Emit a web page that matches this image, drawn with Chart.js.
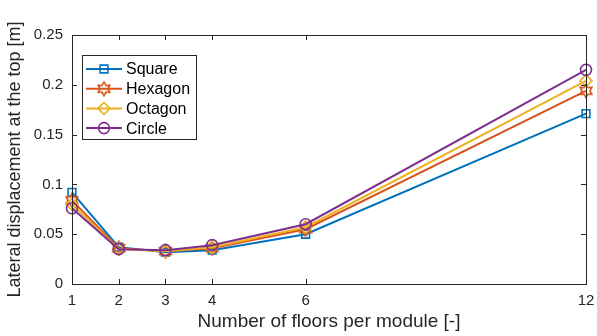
<!DOCTYPE html>
<html>
<head>
<meta charset="utf-8">
<script src="https://cdn.jsdelivr.net/npm/chart.js@4.4.1/dist/chart.umd.min.js"></script>
<style>
  html, body { margin: 0; padding: 0; background: #fff; }
</style>
</head>
<body>
<canvas id="myChart" width="597" height="336"></canvas>
<script>
const floors = [1, 2, 3, 4, 6, 12];
const xTickValues = [1, 2, 3, 4, 6, 12];
const yTickValues = [0, 0.05, 0.1, 0.15, 0.2, 0.25];

const seriesNames = ["Square", "Hexagon", "Octagon", "Circle"];
const square = [0.092, 0.037, 0.032, 0.034, 0.050, 0.171];
const hexagon = [0.084, 0.036, 0.033, 0.036, 0.055, 0.194];
const octagon = [0.080, 0.035, 0.033, 0.037, 0.057, 0.204];
const circle = [0.076, 0.035, 0.034, 0.039, 0.060, 0.215];

const colors = ["#0072BD", "#D95319", "#EDB120", "#7E2F8E"];
const axisColor = "#262626";
const font = "'Liberation Sans', Arial, Helvetica, sans-serif";

// six pointed star marker, drawn once into a small canvas
function hexagram(color) {
  const c = document.createElement("canvas");
  c.width = 16;
  c.height = 16;
  const g = c.getContext("2d");
  const R = 6.8, r = R / Math.sqrt(3);
  g.beginPath();
  for (let k = 0; k < 12; k++) {
    const a = -Math.PI / 2 + (k * Math.PI) / 6;
    const rad = k % 2 ? r : R;
    const px = 8 + rad * Math.cos(a), py = 8 + rad * Math.sin(a);
    if (k === 0) g.moveTo(px, py); else g.lineTo(px, py);
  }
  g.closePath();
  g.strokeStyle = color;
  g.lineWidth = 1.6;
  g.stroke();
  return c;
}

const markers = ["rect", hexagram(colors[1]), "rectRot", "circle"];
const markerSize = [5.5, 7, 6, 5.5];
const values = [square, hexagon, octagon, circle];

function makeDataset(i) {
  return {
    label: seriesNames[i],
    data: floors.map((x, j) => ({ x: x, y: values[i][j] })),
    borderColor: colors[i],
    backgroundColor: "rgba(0,0,0,0)",
    borderWidth: 2,
    pointStyle: markers[i],
    pointRadius: markerSize[i],
    pointBorderColor: colors[i],
    pointBackgroundColor: "rgba(0,0,0,0)",
    pointBorderWidth: 1.6,
    tension: 0,
    clip: false,
    order: 4 - i,
  };
}

// box round the plot, inward ticks and the legend, matlab style
const boxPlugin = {
  id: "boxPlugin",
  afterDraw(chart) {
    const ctx = chart.ctx;
    const a = chart.chartArea;
    const xs = chart.scales.x, ys = chart.scales.y;
    ctx.save();
    ctx.strokeStyle = axisColor;
    ctx.lineWidth = 1;
    ctx.strokeRect(a.left + 0.5, a.top + 0.5, a.right - a.left, a.bottom - a.top);
    ctx.beginPath();
    xTickValues.forEach((v) => {
      const px = Math.round(xs.getPixelForValue(v)) + 0.5;
      ctx.moveTo(px, a.bottom);
      ctx.lineTo(px, a.bottom - 5);
      ctx.moveTo(px, a.top);
      ctx.lineTo(px, a.top + 5);
    });
    yTickValues.forEach((v) => {
      const py = Math.round(ys.getPixelForValue(v)) + 0.5;
      ctx.moveTo(a.left, py);
      ctx.lineTo(a.left + 5, py);
      ctx.moveTo(a.right, py);
      ctx.lineTo(a.right - 5, py);
    });
    ctx.stroke();

    // legend
    const lx = a.left + 10, ly = a.top + 20, lw = 114, lh = 84;
    ctx.fillStyle = "#fff";
    ctx.fillRect(lx, ly, lw, lh);
    ctx.strokeStyle = axisColor;
    ctx.strokeRect(lx + 0.5, ly + 0.5, lw, lh);
    ctx.font = "16px " + font;
    ctx.textBaseline = "middle";
    seriesNames.forEach((name, i) => {
      const y = ly + 14 + i * 19.7;
      ctx.strokeStyle = colors[i];
      ctx.lineWidth = 2;
      ctx.beginPath();
      ctx.moveTo(lx + 4, y);
      ctx.lineTo(lx + 40, y);
      ctx.stroke();
      ctx.fillStyle = "rgba(0,0,0,0)";
      ctx.lineWidth = 1.6;
      Chart.helpers.drawPoint(ctx, {
        pointStyle: markers[i],
        radius: markerSize[i],
        borderWidth: 1.6,
        rotation: 0,
      }, lx + 22, y);
      ctx.fillStyle = "#000";
      ctx.fillText(name, lx + 44, y + 1);
    });
    ctx.restore();
  },
};

const config = {
  type: "line",
  data: {
    datasets: seriesNames.map((n, i) => makeDataset(i)),
  },
  options: {
    responsive: false,
    animation: false,
    devicePixelRatio: 1,
    layout: { padding: { top: 35, right: 11, left: 0, bottom: 0 } },
    plugins: {
      legend: { display: false },
      tooltip: { enabled: false },
    },
    scales: {
      x: {
        type: "linear",
        min: 1,
        max: 12,
        afterBuildTicks: (scale) => {
          scale.ticks = xTickValues.map((v) => ({ value: v }));
        },
        afterFit: (scale) => {
          scale.height = 52;
        },
        grid: { display: false },
        border: { display: false },
        ticks: {
          color: axisColor,
          padding: 0,
          maxRotation: 0,
          font: { family: font, size: 15 },
          callback: (v) => String(v),
        },
        title: {
          display: true,
          text: "Number of floors per module [-]",
          color: axisColor,
          padding: { top: 0, bottom: 3 },
          font: { family: font, size: 19 },
        },
      },
      y: {
        min: 0,
        max: 0.25,
        afterBuildTicks: (scale) => {
          scale.ticks = yTickValues.map((v) => ({ value: v }));
        },
        afterFit: (scale) => {
          scale.width = 72;
        },
        grid: { display: false },
        border: { display: false },
        ticks: {
          color: axisColor,
          padding: 1,
          font: { family: font, size: 15 },
          callback: (v) => String(parseFloat(v.toFixed(2))),
        },
        title: {
          display: true,
          text: "Lateral displacement at the top [m]",
          color: axisColor,
          padding: { top: 4, bottom: 0 },
          font: { family: font, size: 18 },
        },
      },
    },
  },
  plugins: [boxPlugin],
};

const myChart = new Chart(document.getElementById("myChart").getContext("2d"), config);
</script>
</body>
</html>
